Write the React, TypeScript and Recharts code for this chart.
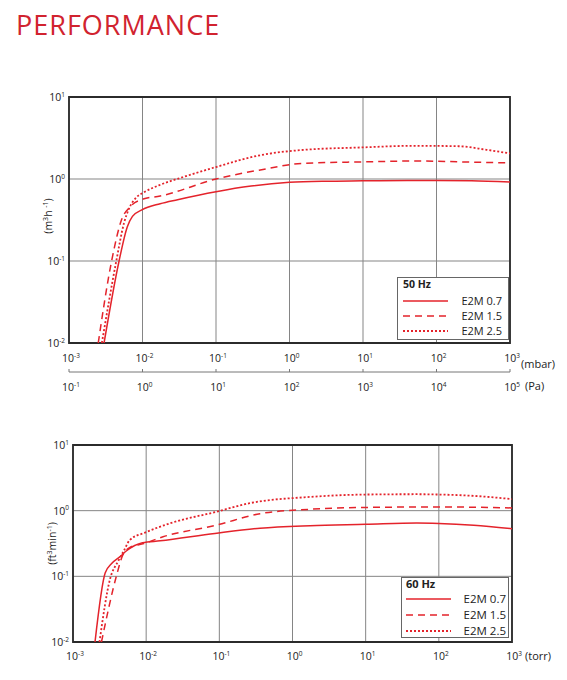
import React from "react";
import {
  LineChart,
  Line,
  XAxis,
  YAxis,
  CartesianGrid,
  ReferenceArea,
} from "recharts";

const RED = "#e4232b";
const FONT = "'Open Sans', 'DejaVu Sans', sans-serif";

// decades on the axes
const mbarTicks = [0.001, 0.01, 0.1, 1, 10, 100, 1000];
const paTicks = [0.1, 1, 10, 100, 1000, 10000, 100000];
const torrTicks = [0.001, 0.01, 0.1, 1, 10, 100, 1000];
const speedTicks = [0.01, 0.1, 1, 10];

const pumpNames = ["E2M 0.7", "E2M 1.5", "E2M 2.5"];

// 50 Hz: [inlet pressure (mbar), pumping speed (m3/h)]
const e2m07At50 = [
  [0.003, 0.01], [0.0048, 0.1], [0.0062, 0.26], [0.0073, 0.35], [0.0098, 0.42],
  [0.0174, 0.5], [0.03, 0.56], [0.1, 0.7], [0.3, 0.82], [1, 0.91], [3, 0.94],
  [10, 0.95], [40, 0.96], [100, 0.96], [300, 0.95], [1000, 0.92],
];
const e2m15At50 = [
  [0.0025, 0.01], [0.0038, 0.1], [0.0052, 0.32], [0.0068, 0.46], [0.0102, 0.57],
  [0.0174, 0.62], [0.1, 1.0], [0.4, 1.29], [1.5, 1.55], [11, 1.62], [54, 1.66],
  [257, 1.61], [1000, 1.57],
];
const e2m25At50 = [
  [0.0028, 0.01], [0.0044, 0.1], [0.0056, 0.29], [0.0066, 0.44], [0.0083, 0.6],
  [0.0102, 0.68], [0.018, 0.86], [0.035, 1.05], [0.1, 1.4], [0.4, 1.95],
  [1.4, 2.25], [10, 2.43], [48, 2.54], [200, 2.51], [480, 2.27], [1000, 2.05],
];

// 60 Hz: [inlet pressure (torr), pumping speed (ft3/min)]
const e2m07At60 = [
  [0.002, 0.01], [0.00275, 0.112], [0.0034, 0.158], [0.0044, 0.2], [0.0054, 0.245],
  [0.0089, 0.325], [0.0155, 0.347], [0.087, 0.45], [0.36, 0.54], [1.74, 0.59],
  [10, 0.62], [50, 0.65], [100, 0.64], [300, 0.6], [1000, 0.53],
];
const e2m15At60 = [
  [0.00245, 0.01], [0.004, 0.11], [0.0047, 0.2], [0.006, 0.275], [0.0093, 0.316],
  [0.017, 0.4], [0.09, 0.6], [0.36, 0.9], [1.74, 1.05], [10, 1.12], [100, 1.14],
  [1000, 1.1],
];
const e2m25At60 = [
  [0.0023, 0.01], [0.0032, 0.09], [0.0042, 0.175], [0.005, 0.25], [0.006, 0.36],
  [0.0095, 0.46], [0.023, 0.66], [0.087, 0.95], [0.26, 1.3], [1.74, 1.62],
  [10, 1.76], [50, 1.78], [100, 1.76], [300, 1.68], [1000, 1.5],
];

const lineStyles = [
  { dash: undefined, width: 1.5 },
  { dash: "7 5", width: 1.5 },
  { dash: "2 2", width: 1.8 },
];

const toPoints = (pairs: number[][]) => pairs.map(([p, q]) => ({ p, q }));

const curves50 = [e2m07At50, e2m15At50, e2m25At50].map(toPoints);
const curves60 = [e2m07At60, e2m15At60, e2m25At60].map(toPoints);

function Decade({ value, x, y, anchor, size = 10.5 }: any) {
  const exp = Math.round(Math.log10(value));
  return (
    <text x={x} y={y} textAnchor={anchor} fontFamily={FONT} fontSize={size} fill="#222">
      10
      <tspan dy={-4.5} fontSize={size * 0.62}>
        {exp}
      </tspan>
    </text>
  );
}

function YTick({ x, y, payload }: any) {
  return <Decade value={payload.value} x={x - 4} y={y + 4} anchor="end" />;
}

function BottomTick({ x, y, payload, last, unit, dy, unitDx, unitDy }: any) {
  return (
    <g>
      <Decade value={payload.value} x={x + 2} y={y + dy} anchor="middle" />
      {payload.value === last && (
        <text x={x + unitDx} y={y + unitDy} fontFamily={FONT} fontSize={11} fill="#222">
          {unit}
        </text>
      )}
    </g>
  );
}

function PaTick(props: any) {
  const { x, y } = props;
  return (
    <g>
      <line x1={x} y1={y} x2={x} y2={y - 3} stroke="#777" strokeWidth={1} />
      <BottomTick {...props} />
    </g>
  );
}

function YTitle({ viewBox, base, sup1, mid, sup2, shift }: any) {
  const cx = viewBox.x + 23;
  const cy = viewBox.y + viewBox.height / 2 + shift;
  return (
    <text
      x={cx}
      y={cy}
      transform={`rotate(-90 ${cx} ${cy})`}
      textAnchor="middle"
      fontFamily={FONT}
      fontSize={10.5}
      fill="#222"
    >
      {base}
      <tspan dy={-4} fontSize={7}>{sup1}</tspan>
      <tspan dy={4}>{mid}</tspan>
      <tspan dy={-4} fontSize={7}>{sup2}</tspan>
      <tspan dy={4}>)</tspan>
    </text>
  );
}

function LegendBox({ left, top, width, height, title, rowY, sampleX, textRight, fontSize }: any) {
  return (
    <svg
      width={width}
      height={height}
      style={{ position: "absolute", left, top, background: "#fff" }}
    >
      <rect x={0.5} y={0.5} width={width - 1} height={height - 1} fill="#fff" stroke="#666" />
      <text x={sampleX} y={11} fontFamily={FONT} fontSize={fontSize - 0.5} fontWeight="bold" fill="#222">
        {title}
      </text>
      {pumpNames.map((name, i) => (
        <g key={name}>
          <line
            x1={sampleX}
            x2={sampleX + 45}
            y1={rowY[i]}
            y2={rowY[i]}
            stroke={RED}
            strokeWidth={lineStyles[i].width}
            strokeDasharray={lineStyles[i].dash}
          />
          <text
            x={textRight}
            y={rowY[i] + 4}
            textAnchor="end"
            fontFamily={FONT}
            fontSize={fontSize}
            fill="#222"
          >
            {name}
          </text>
        </g>
      ))}
    </svg>
  );
}

function plotLines(curves: any[]) {
  return curves.map((data, i) => (
    <Line
      key={pumpNames[i]}
      data={data}
      dataKey="q"
      name={pumpNames[i]}
      type="monotone"
      stroke={RED}
      strokeWidth={lineStyles[i].width}
      strokeDasharray={lineStyles[i].dash}
      dot={false}
      activeDot={false}
      isAnimationActive={false}
    />
  ));
}

export default function App() {
  return (
    <div
      style={{
        position: "absolute",
        left: 0,
        top: 0,
        width: 567,
        height: 680,
        background: "#fff",
        fontFamily: FONT,
      }}
    >
      <svg width={567} height={50} style={{ position: "absolute", left: 0, top: 0 }}>
        <text x={16} y={35} fontFamily={FONT} fontSize={27} letterSpacing={1} fill="#d1232f">
          PERFORMANCE
        </text>
      </svg>

      {/* 50 Hz, mbar with a Pa scale underneath */}
      <div style={{ position: "absolute", left: 0, top: 0 }}>
        <LineChart width={567} height={420} margin={{ top: 97, right: 57, left: 29, bottom: 0 }}>
          <CartesianGrid stroke="#858585" strokeWidth={1} />
          <XAxis
            dataKey="p"
            type="number"
            scale="log"
            domain={[0.001, 1000]}
            ticks={mbarTicks}
            allowDataOverflow
            height={29}
            axisLine={false}
            tickLine={false}
            tickSize={0}
            tickMargin={0}
            interval={0}
            tick={(props: any) => (
              <BottomTick {...props} last={1000} unit="(mbar)" dy={19} unitDx={11} unitDy={25} />
            )}
          />
          <XAxis
            xAxisId="pa"
            dataKey="p"
            type="number"
            scale="log"
            domain={[0.1, 100000]}
            ticks={paTicks}
            allowDataOverflow
            height={48}
            axisLine={{ stroke: "#777" }}
            tickLine={false}
            tickSize={0}
            tickMargin={0}
            interval={0}
            tick={(props: any) => (
              <PaTick {...props} last={100000} unit="(Pa)" dy={19} unitDx={15} unitDy={18} />
            )}
          />
          <YAxis
            type="number"
            scale="log"
            domain={[0.01, 10]}
            ticks={speedTicks}
            allowDataOverflow
            width={40}
            axisLine={false}
            tickLine={false}
            tickSize={0}
            tickMargin={0}
            interval={0}
            tick={YTick}
            label={{
              content: (props: any) => (
                <YTitle {...props} base="(m" sup1="3" mid="h " sup2="-1" shift={-4} />
              ),
            }}
          />
          <ReferenceArea
            x1={0.001}
            x2={1000}
            y1={0.01}
            y2={10}
            fill="none"
            stroke="#2b2b2b"
            strokeWidth={1.8}
          />
          {plotLines(curves50)}
        </LineChart>
      </div>

      <LegendBox
        left={397}
        top={277}
        width={112}
        height={63}
        title="50 Hz"
        rowY={[24, 39, 54]}
        sampleX={6}
        textRight={105}
        fontSize={11}
      />

      {/* 60 Hz, torr */}
      <div style={{ position: "absolute", left: 0, top: 420 }}>
        <LineChart width={567} height={260} margin={{ top: 25, right: 55, left: 33, bottom: 0 }}>
          <CartesianGrid stroke="#858585" strokeWidth={1} />
          <XAxis
            dataKey="p"
            type="number"
            scale="log"
            domain={[0.001, 1000]}
            ticks={torrTicks}
            allowDataOverflow
            height={38}
            axisLine={false}
            tickLine={false}
            tickSize={0}
            tickMargin={0}
            interval={0}
            tick={(props: any) => (
              <BottomTick {...props} last={1000} unit="(torr)" dy={18} unitDx={13} unitDy={18} />
            )}
          />
          <YAxis
            type="number"
            scale="log"
            domain={[0.01, 10]}
            ticks={speedTicks}
            allowDataOverflow
            width={40}
            axisLine={false}
            tickLine={false}
            tickSize={0}
            tickMargin={0}
            interval={0}
            tick={YTick}
            label={{
              content: (props: any) => (
                <YTitle {...props} base="(ft" sup1="3" mid="min" sup2="-1" shift={0} />
              ),
            }}
          />
          <ReferenceArea
            x1={0.001}
            x2={1000}
            y1={0.01}
            y2={10}
            fill="none"
            stroke="#2b2b2b"
            strokeWidth={1.8}
          />
          {plotLines(curves60)}
        </LineChart>
      </div>

      <LegendBox
        left={401}
        top={577}
        width={108}
        height={61}
        title="60 Hz"
        rowY={[22, 38, 54]}
        sampleX={5}
        textRight={105}
        fontSize={11.5}
      />
    </div>
  );
}
